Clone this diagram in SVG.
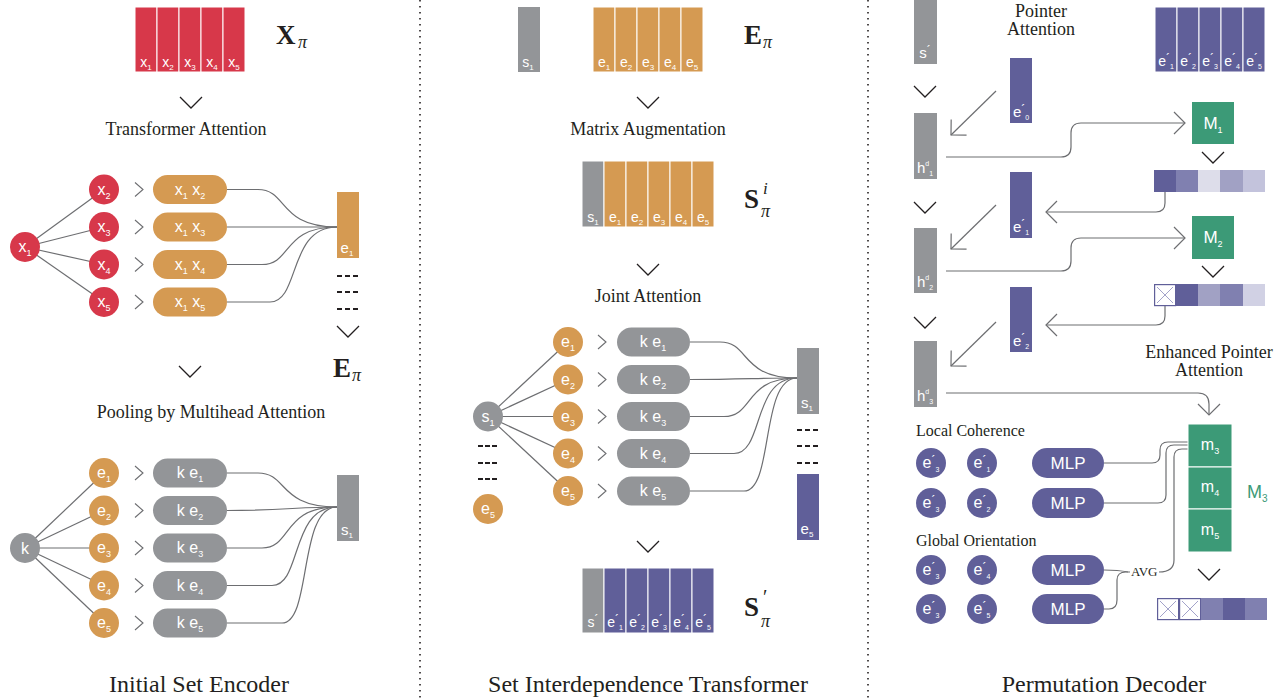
<svg xmlns="http://www.w3.org/2000/svg" width="1288" height="700" viewBox="0 0 1288 700">
<style>
.red{fill:#D7384A}.org{fill:#D59A52}.gry{fill:#939598}.pur{fill:#605F99}.grn{fill:#3C9A77}
.cell{stroke:#fff;stroke-width:1}
.ln{fill:none;stroke:#6D6E71;stroke-width:1.2}
.chev{fill:none;stroke:#231F20;stroke-width:1.3}
.sch{fill:none;stroke:#6D6E71;stroke-width:1.1}
.wt{fill:#fff;font-family:"Liberation Sans",Arial,sans-serif;text-anchor:middle}
.sf{fill:#231F20;font-family:"Liberation Serif","Times New Roman",serif}
.mid{text-anchor:middle}
.sep{stroke:#231F20;stroke-width:1.6;stroke-dasharray:1.6,4.4}
.xc{fill:#fff;stroke:#605F99;stroke-width:1.2}
.xl{stroke:#8C8CBC;stroke-width:0.8}
.pr{font-size:12px}
</style>
<defs>
<marker id="ah" markerUnits="userSpaceOnUse" markerWidth="30" markerHeight="30" viewBox="-15 -15 30 30" refX="0" refY="0" orient="auto" overflow="visible">
<path d="M-11,-11 L0,0 L-11,11" fill="none" stroke="#6D6E71" stroke-width="1.2"/>
</marker>
</defs>

<g id="separators">
<line class="sep" x1="420" y1="0" x2="420" y2="700"/>
<line class="sep" x1="868" y1="0" x2="868" y2="700"/>
</g>

<g id="connectors">
<line class="ln" x1="25" y1="247" x2="104" y2="189.5"/>
<line class="ln" x1="25" y1="247" x2="104" y2="227"/>
<line class="ln" x1="25" y1="247" x2="104" y2="264.5"/>
<line class="ln" x1="25" y1="247" x2="104" y2="302"/>
<path class="ln" d="M227,189.5 H258 C288,189.5 278,227 337,227"/>
<path class="ln" d="M227,227 H337"/>
<path class="ln" d="M227,264.5 H262 C292,264.5 282,227 337,227"/>
<path class="ln" d="M227,302 H270 C300,302 288,227 337,227"/>
<line class="ln" x1="25" y1="548" x2="104" y2="473"/>
<line class="ln" x1="25" y1="548" x2="104" y2="510.5"/>
<line class="ln" x1="25" y1="548" x2="104" y2="548"/>
<line class="ln" x1="25" y1="548" x2="104" y2="585.5"/>
<line class="ln" x1="25" y1="548" x2="104" y2="623"/>
<path class="ln" d="M227,473 H258 C288,473 278,507 337,507"/>
<path class="ln" d="M227,510.5 C280,510.5 300,507 337,507"/>
<path class="ln" d="M227,548 H262 C292,548 282,507 337,507"/>
<path class="ln" d="M227,585.5 H272 C302,585.5 290,507 337,507"/>
<path class="ln" d="M227,623 H282 C312,623 298,507 337,507"/>
<line class="ln" x1="488" y1="416.5" x2="568" y2="342"/>
<line class="ln" x1="488" y1="416.5" x2="568" y2="379.5"/>
<line class="ln" x1="488" y1="416.5" x2="568" y2="416.5"/>
<line class="ln" x1="488" y1="416.5" x2="568" y2="453.5"/>
<line class="ln" x1="488" y1="416.5" x2="568" y2="491"/>
<path class="ln" d="M690,342 H720 C750,342 740,378 797,378"/>
<path class="ln" d="M690,379.5 C740,379.5 760,378 797,378"/>
<path class="ln" d="M690,416.5 H724 C754,416.5 744,378 797,378"/>
<path class="ln" d="M690,453.5 H734 C764,453.5 752,378 797,378"/>
<path class="ln" d="M690,491 H744 C774,491 760,378 797,378"/>
<line class="ln" x1="996" y1="91" x2="951" y2="135" marker-end="url(#ah)"/>
<line class="ln" x1="996" y1="205" x2="951" y2="249" marker-end="url(#ah)"/>
<line class="ln" x1="996" y1="322" x2="951" y2="366" marker-end="url(#ah)"/>
<path class="ln" d="M946,157 H1061 Q1071,157 1071,147 V133 Q1071,123 1081,123 H1185" marker-end="url(#ah)"/>
<path class="ln" d="M1165,192 V203 Q1165,212 1156,212 H1046" marker-end="url(#ah)"/>
<path class="ln" d="M946,271 H1061 Q1071,271 1071,261 V248 Q1071,238 1081,238 H1185" marker-end="url(#ah)"/>
<path class="ln" d="M1165,306 V316 Q1165,325 1156,325 H1046" marker-end="url(#ah)"/>
<path class="ln" d="M946,393 H1198 Q1209,393 1209,404 V415" marker-end="url(#ah)"/>
<path class="ln" d="M1104,463 H1152 Q1160,463 1160,455 V450 Q1160,442 1168,442 H1188"/>
<path class="ln" d="M1104,503 H1158 Q1166,503 1166,495 V453 Q1166,445 1174,445 H1188"/>
<path class="ln" d="M1159,572 Q1174,572 1174,560 V457 Q1174,449 1182,449 H1188"/>
<path class="ln" d="M1104,570 Q1118,570 1128,572"/>
<path class="ln" d="M1104,609 H1109 Q1117,609 1117,600 V580 Q1117,572 1126,572 H1130"/>
</g>

<g id="chevrons">
<path class="chev" d="M180,97 l11,11 l11,-11"/>
<path class="chev" d="M337,326 l11,11 l11,-11"/>
<path class="chev" d="M179,366 l11,11 l11,-11"/>
<path class="chev" d="M637,97 l11,11 l11,-11"/>
<path class="chev" d="M637,264 l11,11 l11,-11"/>
<path class="chev" d="M637,541 l11,11 l11,-11"/>
<path class="chev" d="M914,86 l11,11 l11,-11"/>
<path class="chev" d="M914,202 l11,11 l11,-11"/>
<path class="chev" d="M914,317 l11,11 l11,-11"/>
<path class="chev" d="M1202,152 l11,11 l11,-11"/>
<path class="chev" d="M1202,266 l11,11 l11,-11"/>
<path class="chev" d="M1198,569 l11,11 l11,-11"/>
<path class="sch" d="M135,182.5 l8,7 l-8,7 M135,220 l8,7 l-8,7 M135,257.5 l8,7 l-8,7 M135,295 l8,7 l-8,7"/>
<path class="sch" d="M135,466 l8,7 l-8,7 M135,503.5 l8,7 l-8,7 M135,541 l8,7 l-8,7 M135,578.5 l8,7 l-8,7 M135,616 l8,7 l-8,7"/>
<path class="sch" d="M598,335 l8,7 l-8,7 M598,372.5 l8,7 l-8,7 M598,409.5 l8,7 l-8,7 M598,446.5 l8,7 l-8,7 M598,484 l8,7 l-8,7"/>
</g>

<g id="X_pi">
<rect class="red cell" x="135" y="7" width="22" height="65"/>
<rect class="red cell" x="157" y="7" width="22" height="65"/>
<rect class="red cell" x="179" y="7" width="22" height="65"/>
<rect class="red cell" x="201" y="7" width="22" height="65"/>
<rect class="red cell" x="223" y="7" width="22" height="65"/>
<text class="wt" x="146" y="67" font-size="14">x<tspan font-size="8" dy="3">1</tspan></text>
<text class="wt" x="168" y="67" font-size="14">x<tspan font-size="8" dy="3">2</tspan></text>
<text class="wt" x="190" y="67" font-size="14">x<tspan font-size="8" dy="3">3</tspan></text>
<text class="wt" x="212" y="67" font-size="14">x<tspan font-size="8" dy="3">4</tspan></text>
<text class="wt" x="234" y="67" font-size="14">x<tspan font-size="8" dy="3">5</tspan></text>
<text class="sf" x="276" y="44" font-size="27" font-weight="bold">X</text>
<text class="sf" x="298" y="48" font-size="18" font-style="italic">π</text>
</g>
<text class="sf mid" x="186" y="135" font-size="18">Transformer Attention</text>

<g id="x1"><circle class="red" cx="25" cy="247" r="15"/><text class="wt" x="25" y="252" font-size="16">x<tspan font-size="9" dy="4">1</tspan></text></g>
<g id="x2"><circle class="red" cx="104" cy="189.5" r="15"/><text class="wt" x="104" y="194.5" font-size="16">x<tspan font-size="9" dy="4">2</tspan></text></g>
<g id="x3"><circle class="red" cx="104" cy="227" r="15"/><text class="wt" x="104" y="232" font-size="16">x<tspan font-size="9" dy="4">3</tspan></text></g>
<g id="x4"><circle class="red" cx="104" cy="264.5" r="15"/><text class="wt" x="104" y="269.5" font-size="16">x<tspan font-size="9" dy="4">4</tspan></text></g>
<g id="x5"><circle class="red" cx="104" cy="302" r="15"/><text class="wt" x="104" y="307" font-size="16">x<tspan font-size="9" dy="4">5</tspan></text></g>

<g id="x1x2"><rect class="org" x="153" y="175" width="74" height="29" rx="14.5"/><text class="wt" x="190" y="194.5" font-size="16">x<tspan font-size="9" dy="4">1</tspan><tspan dy="-4"> x</tspan><tspan font-size="9" dy="4">2</tspan></text></g>
<g id="x1x3"><rect class="org" x="153" y="212.5" width="74" height="29" rx="14.5"/><text class="wt" x="190" y="232" font-size="16">x<tspan font-size="9" dy="4">1</tspan><tspan dy="-4"> x</tspan><tspan font-size="9" dy="4">3</tspan></text></g>
<g id="x1x4"><rect class="org" x="153" y="250" width="74" height="29" rx="14.5"/><text class="wt" x="190" y="269.5" font-size="16">x<tspan font-size="9" dy="4">1</tspan><tspan dy="-4"> x</tspan><tspan font-size="9" dy="4">4</tspan></text></g>
<g id="x1x5"><rect class="org" x="153" y="287.5" width="74" height="29" rx="14.5"/><text class="wt" x="190" y="307" font-size="16">x<tspan font-size="9" dy="4">1</tspan><tspan dy="-4"> x</tspan><tspan font-size="9" dy="4">5</tspan></text></g>

<g id="e1bar"><rect class="org" x="337" y="192" width="22" height="66"/><text class="wt" x="347" y="253" font-size="15">e<tspan font-size="8" dy="3">1</tspan></text></g>
<g id="dotsL" fill="#231F20">
<rect x="337" y="275" width="5" height="2"/><rect x="345" y="275" width="5" height="2"/><rect x="353" y="275" width="5" height="2"/>
<rect x="337" y="291" width="5" height="2"/><rect x="345" y="291" width="5" height="2"/><rect x="353" y="291" width="5" height="2"/>
<rect x="337" y="308" width="5" height="2"/><rect x="345" y="308" width="5" height="2"/><rect x="353" y="308" width="5" height="2"/>
</g>
<g id="E_pi_left">
<text class="sf" x="333" y="377" font-size="27" font-weight="bold">E</text>
<text class="sf" x="352" y="381" font-size="18" font-style="italic">π</text>
</g>
<text class="sf mid" x="211" y="418" font-size="18">Pooling by Multihead Attention</text>

<g id="k"><circle class="gry" cx="25" cy="548" r="15"/><text class="wt" x="25" y="554" font-size="16">k</text></g>
<g id="le1"><circle class="org" cx="104" cy="473" r="15"/><text class="wt" x="104" y="478" font-size="16">e<tspan font-size="9" dy="4">1</tspan></text></g>
<g id="le2"><circle class="org" cx="104" cy="510.5" r="15"/><text class="wt" x="104" y="515.5" font-size="16">e<tspan font-size="9" dy="4">2</tspan></text></g>
<g id="le3"><circle class="org" cx="104" cy="548" r="15"/><text class="wt" x="104" y="553" font-size="16">e<tspan font-size="9" dy="4">3</tspan></text></g>
<g id="le4"><circle class="org" cx="104" cy="585.5" r="15"/><text class="wt" x="104" y="590.5" font-size="16">e<tspan font-size="9" dy="4">4</tspan></text></g>
<g id="le5"><circle class="org" cx="104" cy="623" r="15"/><text class="wt" x="104" y="628" font-size="16">e<tspan font-size="9" dy="4">5</tspan></text></g>

<g id="lke1"><rect class="gry" x="153" y="458.5" width="74" height="29" rx="14.5"/><text class="wt" x="190" y="478" font-size="16">k e<tspan font-size="9" dy="4">1</tspan></text></g>
<g id="lke2"><rect class="gry" x="153" y="496" width="74" height="29" rx="14.5"/><text class="wt" x="190" y="515.5" font-size="16">k e<tspan font-size="9" dy="4">2</tspan></text></g>
<g id="lke3"><rect class="gry" x="153" y="533.5" width="74" height="29" rx="14.5"/><text class="wt" x="190" y="553" font-size="16">k e<tspan font-size="9" dy="4">3</tspan></text></g>
<g id="lke4"><rect class="gry" x="153" y="571" width="74" height="29" rx="14.5"/><text class="wt" x="190" y="590.5" font-size="16">k e<tspan font-size="9" dy="4">4</tspan></text></g>
<g id="lke5"><rect class="gry" x="153" y="608.5" width="74" height="29" rx="14.5"/><text class="wt" x="190" y="628" font-size="16">k e<tspan font-size="9" dy="4">5</tspan></text></g>

<g id="s1barL"><rect class="gry" x="337" y="475" width="22" height="66"/><text class="wt" x="347" y="535" font-size="15">s<tspan font-size="8" dy="3">1</tspan></text></g>
<text class="sf mid" x="199" y="692" font-size="24">Initial Set Encoder</text>

<g id="s1top"><rect class="gry" x="518" y="7" width="22" height="65"/><text class="wt" x="528" y="67" font-size="14">s<tspan font-size="8" dy="3">1</tspan></text></g>
<g id="E_pi_top">
<rect class="org cell" x="593" y="7" width="22" height="65"/>
<rect class="org cell" x="615" y="7" width="22" height="65"/>
<rect class="org cell" x="637" y="7" width="22" height="65"/>
<rect class="org cell" x="659" y="7" width="22" height="65"/>
<rect class="org cell" x="681" y="7" width="22" height="65"/>
<text class="wt" x="604" y="67" font-size="14">e<tspan font-size="8" dy="3">1</tspan></text>
<text class="wt" x="626" y="67" font-size="14">e<tspan font-size="8" dy="3">2</tspan></text>
<text class="wt" x="648" y="67" font-size="14">e<tspan font-size="8" dy="3">3</tspan></text>
<text class="wt" x="670" y="67" font-size="14">e<tspan font-size="8" dy="3">4</tspan></text>
<text class="wt" x="692" y="67" font-size="14">e<tspan font-size="8" dy="3">5</tspan></text>
<text class="sf" x="744" y="44" font-size="27" font-weight="bold">E</text>
<text class="sf" x="763" y="48" font-size="18" font-style="italic">π</text>
</g>
<text class="sf mid" x="648" y="135" font-size="18">Matrix Augmentation</text>

<g id="S_pi_i">
<rect class="gry cell" x="582" y="161" width="22" height="66"/>
<rect class="org cell" x="604" y="161" width="22" height="66"/>
<rect class="org cell" x="626" y="161" width="22" height="66"/>
<rect class="org cell" x="648" y="161" width="22" height="66"/>
<rect class="org cell" x="670" y="161" width="22" height="66"/>
<rect class="org cell" x="692" y="161" width="22" height="66"/>
<text class="wt" x="593" y="222" font-size="14">s<tspan font-size="8" dy="3">1</tspan></text>
<text class="wt" x="615" y="222" font-size="14">e<tspan font-size="8" dy="3">1</tspan></text>
<text class="wt" x="637" y="222" font-size="14">e<tspan font-size="8" dy="3">2</tspan></text>
<text class="wt" x="659" y="222" font-size="14">e<tspan font-size="8" dy="3">3</tspan></text>
<text class="wt" x="681" y="222" font-size="14">e<tspan font-size="8" dy="3">4</tspan></text>
<text class="wt" x="703" y="222" font-size="14">e<tspan font-size="8" dy="3">5</tspan></text>
<text class="sf" x="744" y="208" font-size="27" font-weight="bold">S</text>
<text class="sf" x="763" y="194" font-size="17" font-style="italic">i</text>
<text class="sf" x="761" y="217" font-size="18" font-style="italic">π</text>
</g>
<text class="sf mid" x="648" y="302" font-size="18">Joint Attention</text>

<g id="ms1"><circle class="gry" cx="488" cy="416.5" r="15"/><text class="wt" x="488" y="421.5" font-size="16">s<tspan font-size="9" dy="4">1</tspan></text></g>
<g id="dotsM" fill="#231F20">
<rect x="478" y="445" width="5" height="2"/><rect x="485" y="445" width="5" height="2"/><rect x="492" y="445" width="5" height="2"/>
<rect x="478" y="462" width="5" height="2"/><rect x="485" y="462" width="5" height="2"/><rect x="492" y="462" width="5" height="2"/>
<rect x="478" y="478" width="5" height="2"/><rect x="485" y="478" width="5" height="2"/><rect x="492" y="478" width="5" height="2"/>
</g>
<g id="me5b"><circle class="org" cx="488" cy="509" r="15"/><text class="wt" x="488" y="514" font-size="16">e<tspan font-size="9" dy="4">5</tspan></text></g>

<g id="me1"><circle class="org" cx="568" cy="342" r="15"/><text class="wt" x="568" y="347" font-size="16">e<tspan font-size="9" dy="4">1</tspan></text></g>
<g id="me2"><circle class="org" cx="568" cy="379.5" r="15"/><text class="wt" x="568" y="384.5" font-size="16">e<tspan font-size="9" dy="4">2</tspan></text></g>
<g id="me3"><circle class="org" cx="568" cy="416.5" r="15"/><text class="wt" x="568" y="421.5" font-size="16">e<tspan font-size="9" dy="4">3</tspan></text></g>
<g id="me4"><circle class="org" cx="568" cy="453.5" r="15"/><text class="wt" x="568" y="458.5" font-size="16">e<tspan font-size="9" dy="4">4</tspan></text></g>
<g id="me5"><circle class="org" cx="568" cy="491" r="15"/><text class="wt" x="568" y="496" font-size="16">e<tspan font-size="9" dy="4">5</tspan></text></g>

<g id="mke1"><rect class="gry" x="617" y="327.5" width="73" height="29" rx="14.5"/><text class="wt" x="653" y="347" font-size="16">k e<tspan font-size="9" dy="4">1</tspan></text></g>
<g id="mke2"><rect class="gry" x="617" y="365" width="73" height="29" rx="14.5"/><text class="wt" x="653" y="384.5" font-size="16">k e<tspan font-size="9" dy="4">2</tspan></text></g>
<g id="mke3"><rect class="gry" x="617" y="402" width="73" height="29" rx="14.5"/><text class="wt" x="653" y="421.5" font-size="16">k e<tspan font-size="9" dy="4">3</tspan></text></g>
<g id="mke4"><rect class="gry" x="617" y="439" width="73" height="29" rx="14.5"/><text class="wt" x="653" y="458.5" font-size="16">k e<tspan font-size="9" dy="4">4</tspan></text></g>
<g id="mke5"><rect class="gry" x="617" y="476.5" width="73" height="29" rx="14.5"/><text class="wt" x="653" y="496" font-size="16">k e<tspan font-size="9" dy="4">5</tspan></text></g>

<g id="s1barM"><rect class="gry" x="797" y="348" width="22" height="66"/><text class="wt" x="807" y="408" font-size="15">s<tspan font-size="8" dy="3">1</tspan></text></g>
<g id="dotsM2" fill="#231F20">
<rect x="797" y="429" width="5" height="2"/><rect x="805" y="429" width="5" height="2"/><rect x="813" y="429" width="5" height="2"/>
<rect x="797" y="445" width="5" height="2"/><rect x="805" y="445" width="5" height="2"/><rect x="813" y="445" width="5" height="2"/>
<rect x="797" y="462" width="5" height="2"/><rect x="805" y="462" width="5" height="2"/><rect x="813" y="462" width="5" height="2"/>
</g>
<g id="e5barM"><rect class="pur" x="797" y="474" width="22" height="66"/><text class="wt" x="807" y="534" font-size="15">e<tspan font-size="8" dy="3">5</tspan></text></g>

<g id="S_prime">
<rect class="gry cell" x="582" y="568" width="22" height="65"/>
<rect class="pur cell" x="604" y="568" width="22" height="65"/>
<rect class="pur cell" x="626" y="568" width="22" height="65"/>
<rect class="pur cell" x="648" y="568" width="22" height="65"/>
<rect class="pur cell" x="670" y="568" width="22" height="65"/>
<rect class="pur cell" x="692" y="568" width="22" height="65"/>
<text class="wt" x="593" y="627" font-size="14">s<tspan class="pr" dy="-3">´</tspan></text>
<text class="wt" x="615" y="627" font-size="14">e<tspan class="pr" dy="-3">´</tspan><tspan font-size="7" dy="6">1</tspan></text>
<text class="wt" x="637" y="627" font-size="14">e<tspan class="pr" dy="-3">´</tspan><tspan font-size="7" dy="6">2</tspan></text>
<text class="wt" x="659" y="627" font-size="14">e<tspan class="pr" dy="-3">´</tspan><tspan font-size="7" dy="6">3</tspan></text>
<text class="wt" x="681" y="627" font-size="14">e<tspan class="pr" dy="-3">´</tspan><tspan font-size="7" dy="6">4</tspan></text>
<text class="wt" x="703" y="627" font-size="14">e<tspan class="pr" dy="-3">´</tspan><tspan font-size="7" dy="6">5</tspan></text>
<text class="sf" x="744" y="616" font-size="27" font-weight="bold">S</text>
<text class="sf" x="763" y="604" font-size="20">′</text>
<text class="sf" x="761" y="627" font-size="18" font-style="italic">π</text>
</g>
<text class="sf mid" x="648" y="692" font-size="24">Set Interdependence Transformer</text>

<g id="sprime"><rect class="gry" x="914" y="-1" width="23" height="65"/><text class="wt" x="925" y="58" font-size="15">s<tspan class="pr" dy="-3">´</tspan></text></g>
<text class="sf mid" x="1041" y="17" font-size="18">Pointer</text>
<text class="sf mid" x="1041" y="35" font-size="18">Attention</text>

<g id="Eprime_top">
<rect class="pur cell" x="1155" y="7" width="22" height="65"/>
<rect class="pur cell" x="1177" y="7" width="22" height="65"/>
<rect class="pur cell" x="1199" y="7" width="22" height="65"/>
<rect class="pur cell" x="1221" y="7" width="22" height="65"/>
<rect class="pur cell" x="1243" y="7" width="22" height="65"/>
<text class="wt" x="1166" y="66" font-size="14">e<tspan class="pr" dy="-3">´</tspan><tspan font-size="7" dy="6">1</tspan></text>
<text class="wt" x="1188" y="66" font-size="14">e<tspan class="pr" dy="-3">´</tspan><tspan font-size="7" dy="6">2</tspan></text>
<text class="wt" x="1210" y="66" font-size="14">e<tspan class="pr" dy="-3">´</tspan><tspan font-size="7" dy="6">3</tspan></text>
<text class="wt" x="1232" y="66" font-size="14">e<tspan class="pr" dy="-3">´</tspan><tspan font-size="7" dy="6">4</tspan></text>
<text class="wt" x="1254" y="66" font-size="14">e<tspan class="pr" dy="-3">´</tspan><tspan font-size="7" dy="6">5</tspan></text>
</g>

<g id="e0p"><rect class="pur" x="1010" y="58" width="22" height="65"/><text class="wt" x="1021" y="117" font-size="15">e<tspan class="pr" dy="-3">´</tspan><tspan font-size="7" dy="6">0</tspan></text></g>
<g id="h1"><rect class="gry" x="914" y="113" width="23" height="66"/><text class="wt" x="925" y="173" font-size="15">h<tspan font-size="7" dy="-7">d</tspan><tspan font-size="7" dy="10">1</tspan></text></g>
<g id="M1"><rect class="grn" x="1192" y="102" width="42" height="42"/><text class="wt" x="1213" y="129" font-size="17">M<tspan font-size="9" dy="4">1</tspan></text></g>
<g id="att1">
<rect x="1154" y="170" width="22" height="22" fill="#605F99"/>
<rect x="1176" y="170" width="22" height="22" fill="#8080B0"/>
<rect x="1198" y="170" width="22" height="22" fill="#DDDDEA"/>
<rect x="1220" y="170" width="23" height="22" fill="#A1A1C4"/>
<rect x="1243" y="170" width="22" height="22" fill="#C3C3DC"/>
</g>

<g id="e1p"><rect class="pur" x="1010" y="172" width="22" height="66"/><text class="wt" x="1021" y="232" font-size="15">e<tspan class="pr" dy="-3">´</tspan><tspan font-size="7" dy="6">1</tspan></text></g>
<g id="h2"><rect class="gry" x="914" y="228" width="23" height="65"/><text class="wt" x="925" y="287" font-size="15">h<tspan font-size="7" dy="-7">d</tspan><tspan font-size="7" dy="10">2</tspan></text></g>
<g id="M2"><rect class="grn" x="1192" y="216" width="42" height="43"/><text class="wt" x="1213" y="243" font-size="17">M<tspan font-size="9" dy="4">2</tspan></text></g>
<g id="att2">
<rect class="xc" x="1154.6" y="284.6" width="21" height="21"/>
<path class="xl" d="M1157,287 L1173,303 M1173,287 L1157,303"/>
<rect x="1176" y="284" width="22" height="22" fill="#605F99"/>
<rect x="1198" y="284" width="22" height="22" fill="#A1A1C4"/>
<rect x="1220" y="284" width="23" height="22" fill="#8080B0"/>
<rect x="1243" y="284" width="22" height="22" fill="#D1D1E4"/>
</g>

<g id="e2p"><rect class="pur" x="1010" y="287" width="22" height="65"/><text class="wt" x="1021" y="346" font-size="15">e<tspan class="pr" dy="-3">´</tspan><tspan font-size="7" dy="6">2</tspan></text></g>
<g id="h3"><rect class="gry" x="914" y="341" width="23" height="66"/><text class="wt" x="925" y="401" font-size="15">h<tspan font-size="7" dy="-7">d</tspan><tspan font-size="7" dy="10">3</tspan></text></g>
<text class="sf mid" x="1209" y="358" font-size="18">Enhanced Pointer</text>
<text class="sf mid" x="1209" y="376" font-size="18">Attention</text>

<text class="sf" x="916" y="436" font-size="16">Local Coherence</text>
<g id="lc1a"><circle class="pur" cx="931" cy="463" r="15"/><text class="wt" x="931" y="468" font-size="16">e<tspan class="pr" dy="-3">´</tspan><tspan font-size="7" dy="7">3</tspan></text></g>
<g id="lc1b"><circle class="pur" cx="982" cy="463" r="15"/><text class="wt" x="982" y="468" font-size="16">e<tspan class="pr" dy="-3">´</tspan><tspan font-size="7" dy="7">1</tspan></text></g>
<g id="mlp1"><rect class="pur" x="1032" y="448" width="72" height="30" rx="15"/><text class="wt" x="1068" y="469" font-size="17">MLP</text></g>
<g id="lc2a"><circle class="pur" cx="931" cy="503" r="15"/><text class="wt" x="931" y="508" font-size="16">e<tspan class="pr" dy="-3">´</tspan><tspan font-size="7" dy="7">3</tspan></text></g>
<g id="lc2b"><circle class="pur" cx="982" cy="503" r="15"/><text class="wt" x="982" y="508" font-size="16">e<tspan class="pr" dy="-3">´</tspan><tspan font-size="7" dy="7">2</tspan></text></g>
<g id="mlp2"><rect class="pur" x="1032" y="488" width="72" height="30" rx="15"/><text class="wt" x="1068" y="509" font-size="17">MLP</text></g>

<text class="sf" x="916" y="546" font-size="16">Global Orientation</text>
<g id="go1a"><circle class="pur" cx="931" cy="570" r="15"/><text class="wt" x="931" y="575" font-size="16">e<tspan class="pr" dy="-3">´</tspan><tspan font-size="7" dy="7">3</tspan></text></g>
<g id="go1b"><circle class="pur" cx="982" cy="570" r="15"/><text class="wt" x="982" y="575" font-size="16">e<tspan class="pr" dy="-3">´</tspan><tspan font-size="7" dy="7">4</tspan></text></g>
<g id="mlp3"><rect class="pur" x="1032" y="555" width="72" height="30" rx="15"/><text class="wt" x="1068" y="576" font-size="17">MLP</text></g>
<g id="go2a"><circle class="pur" cx="931" cy="609" r="15"/><text class="wt" x="931" y="614" font-size="16">e<tspan class="pr" dy="-3">´</tspan><tspan font-size="7" dy="7">3</tspan></text></g>
<g id="go2b"><circle class="pur" cx="982" cy="609" r="15"/><text class="wt" x="982" y="614" font-size="16">e<tspan class="pr" dy="-3">´</tspan><tspan font-size="7" dy="7">5</tspan></text></g>
<g id="mlp4"><rect class="pur" x="1032" y="594" width="72" height="30" rx="15"/><text class="wt" x="1068" y="615" font-size="17">MLP</text></g>
<text class="sf" x="1131" y="576" font-size="13">AVG</text>

<g id="M3">
<rect class="grn cell" x="1188" y="424" width="44" height="43"/>
<rect class="grn cell" x="1188" y="467" width="44" height="42"/>
<rect class="grn cell" x="1188" y="509" width="44" height="43"/>
<text class="wt" x="1210" y="450" font-size="16">m<tspan font-size="9" dy="4">3</tspan></text>
<text class="wt" x="1210" y="492" font-size="16">m<tspan font-size="9" dy="4">4</tspan></text>
<text class="wt" x="1210" y="535" font-size="16">m<tspan font-size="9" dy="4">5</tspan></text>
<text x="1247" y="498" font-size="18" fill="#3C9A77" font-family="Liberation Sans,Arial,sans-serif">M<tspan font-size="10" dy="4">3</tspan></text>
</g>
<g id="att3">
<rect class="xc" x="1157.6" y="598.6" width="21" height="21"/>
<path class="xl" d="M1160,601 L1176,617 M1176,601 L1160,617"/>
<rect class="xc" x="1179.6" y="598.6" width="21" height="21"/>
<path class="xl" d="M1182,601 L1198,617 M1198,601 L1182,617"/>
<rect x="1201" y="598" width="22" height="22" fill="#8080B0"/>
<rect x="1223" y="598" width="22" height="22" fill="#605F99"/>
<rect x="1245" y="598" width="22" height="22" fill="#8080B0"/>
</g>
<text class="sf mid" x="1104" y="692" font-size="24">Permutation Decoder</text>
</svg>
